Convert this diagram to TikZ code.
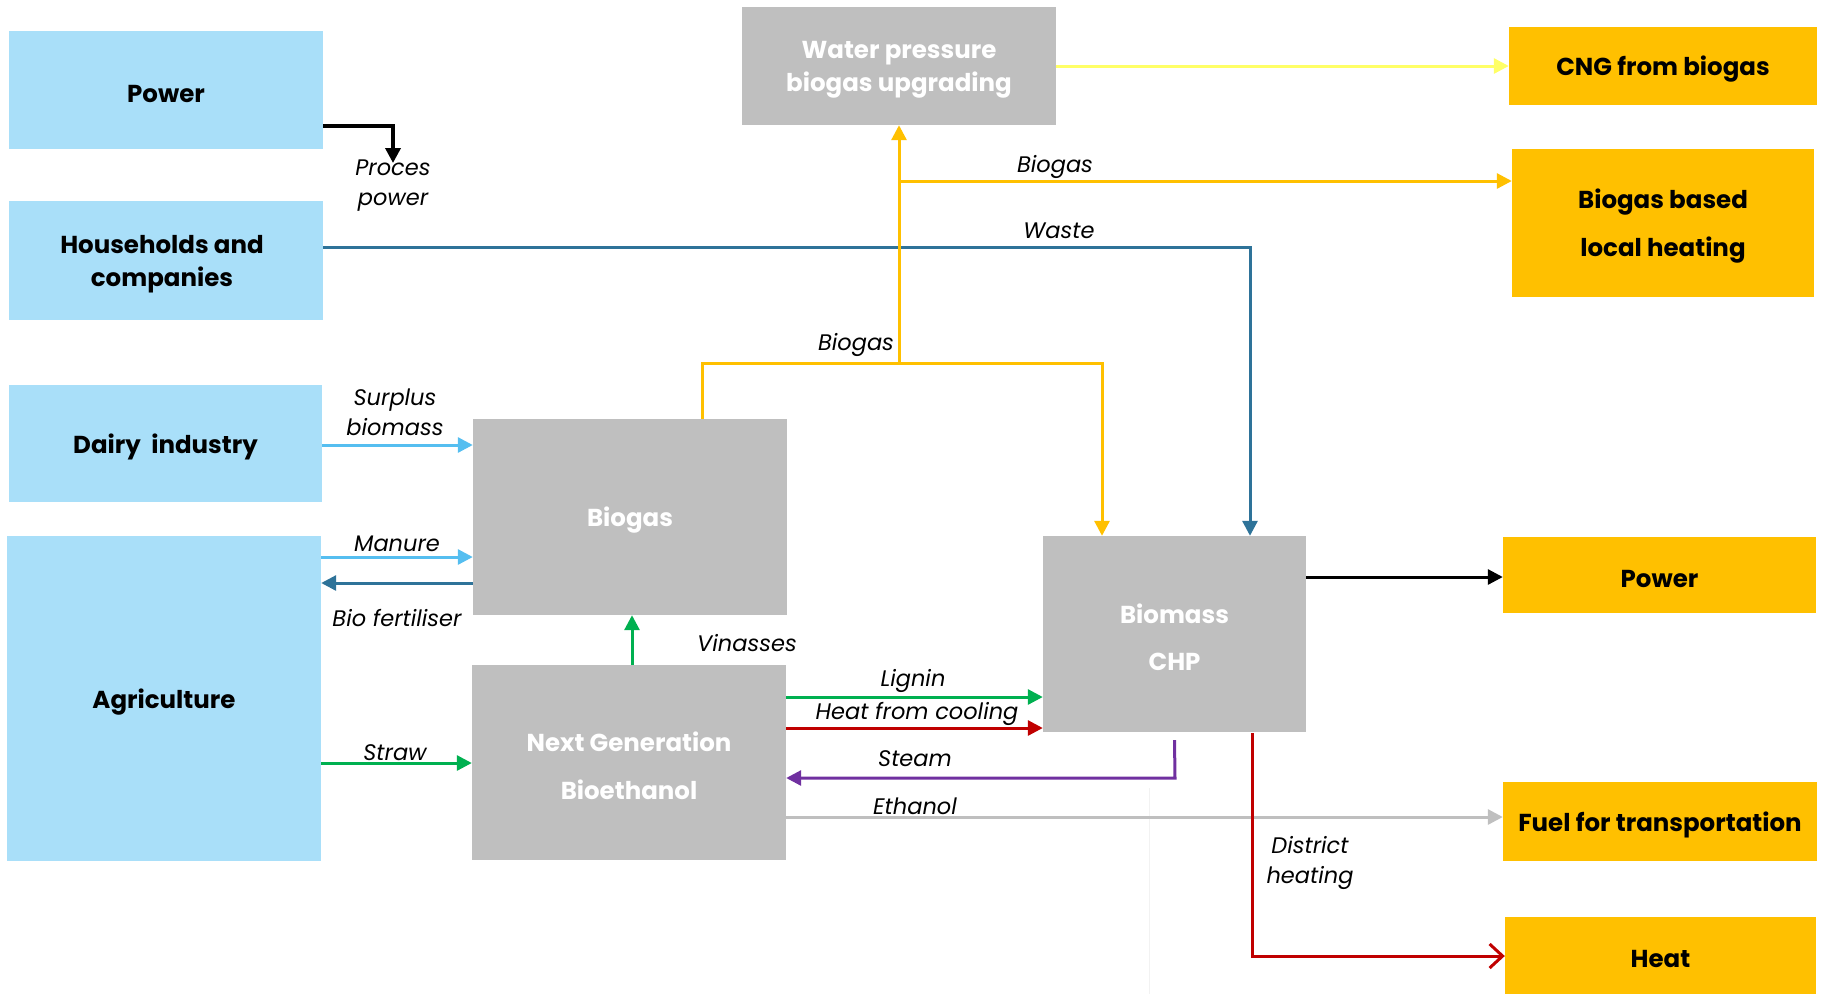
\documentclass[tikz,border=0pt]{standalone}
\usepackage{fontspec}
\setmainfont{Poppins}
\usetikzlibrary{arrows.meta}
\definecolor{lblue}{HTML}{A9DFF9}
\definecolor{pgrey}{HTML}{BFBFBF}
\definecolor{orng}{HTML}{FFC000}
\definecolor{yel}{HTML}{FFFF66}
\definecolor{skyb}{HTML}{55BEF0}
\definecolor{dblue}{HTML}{2E7399}
\definecolor{grn}{HTML}{00B050}
\definecolor{rd}{HTML}{C00000}
\definecolor{purp}{HTML}{7030A0}
\definecolor{faint}{HTML}{F2F2F2}
\begin{document}
\begin{tikzpicture}[x=1pt,y=-1pt,
  box/.style={rectangle, inner sep=0pt},
  srcbox/.style={box, fill=lblue},
  procbox/.style={box, fill=pgrey},
  outbox/.style={box, fill=orng},
  btxt/.style={inner sep=0pt, align=center, font=\fontsize{24.5}{33}\selectfont\bfseries},
  wtxt/.style={btxt, text=white},
  lbl/.style={inner sep=0pt, align=center, font=\fontsize{22.5}{30}\selectfont\itshape},
  flow/.style={line width=3pt, -{Triangle[length=15pt,width=15pt]}}
]
\useasboundingbox (0,0) rectangle (1825,994);
% sources
\node[srcbox, minimum width=314, minimum height=118] (pwrL) at (166,90) {};
\node[srcbox, minimum width=314, minimum height=119] (hh) at (166,260.5) {};
\node[srcbox, minimum width=313, minimum height=117] (dairy) at (165.5,443.5) {};
\node[srcbox, minimum width=314, minimum height=325] (agri) at (164,698.5) {};
% processes
\node[procbox, minimum width=314, minimum height=118] (water) at (899,66) {};
\node[procbox, minimum width=314, minimum height=196] (biogas) at (630,517) {};
\node[procbox, minimum width=314, minimum height=195] (ngb) at (629,762.5) {};
\node[procbox, minimum width=263, minimum height=196] (chp) at (1174.5,634) {};
% outputs
\node[outbox, minimum width=308, minimum height=78] (cng) at (1663,66) {};
\node[outbox, minimum width=302, minimum height=148] (bgheat) at (1663,223) {};
\node[outbox, minimum width=313, minimum height=76] (pwrR) at (1659.5,575) {};
\node[outbox, minimum width=314, minimum height=79] (fuel) at (1660,821.5) {};
\node[outbox, minimum width=311, minimum height=77] (heat) at (1660.5,955.5) {};
% box texts
\node[btxt] (pwrLt) at ([yshift=-3.5pt]pwrL.center) {Power};
\node[btxt] (hht) at ([xshift=-4pt,yshift=-3.5pt]hh.center) {Households and\\companies};
\node[btxt] (dairyt) at ([yshift=-3.5pt]dairy.center) {Dairy\ \ industry};
\node[btxt] (agrit) at ([yshift=-3.5pt]agri.center) {Agriculture};
\node[wtxt] (watert) at ([yshift=-3.5pt]water.center) {Water pressure\\biogas upgrading};
\node[wtxt] (biogast) at ([yshift=-3.5pt]biogas.center) {Biogas};
\node[wtxt, font=\fontsize{24.5}{48}\selectfont\bfseries] (ngbt) at ([yshift=-3.5pt]ngb.center) {Next Generation\\Bioethanol};
\node[wtxt, font=\fontsize{24.5}{47}\selectfont\bfseries] (chpt) at ([yshift=-3pt]chp.center) {Biomass\\CHP};
\node[btxt] (cngt) at ([yshift=-3.5pt]cng.center) {CNG from biogas};
\node[btxt, font=\fontsize{24.5}{48}\selectfont\bfseries] (bgheatt) at ([yshift=-3pt]bgheat.center) {Biogas based\\local heating};
\node[btxt] (pwrRt) at ([yshift=-3.5pt]pwrR.center) {Power};
\node[btxt] (fuelt) at ([yshift=-3.5pt]fuel.center) {Fuel for transportation};
\node[btxt] (heatt) at ([yshift=-3.5pt]heat.center) {Heat};
% faint vertical line
\coordinate (fa) at (1149,788);
\coordinate (fb) at (1149,994);
\draw[faint, line width=1pt] (fa) -- (fb);
% labels
\node[lbl] (lproc) at (393,186) {Proces\\power};
\node[lbl] (lsurp) at (395,412) {Surplus\\biomass};
\node[lbl] (lman) at (397,544) {Manure};
\node[lbl] (lfert) at (397,618) {Bio fertiliser};
\node[lbl] (lstraw) at (395,753) {Straw};
\node[lbl] (lvin) at (747,643) {Vinasses};
\node[lbl] (lbg1) at (856,345) {Biogas};
\node[lbl] (lbg2) at (1055,167) {Biogas};
\node[lbl] (lwaste) at (1059,231) {Waste};
\node[lbl] (llig) at (913,681) {Lignin};
\node[lbl] (lhfc) at (917,714) {Heat from cooling};
\node[lbl] (lsteam) at (915,759) {Steam};
\node[lbl] (leth) at (915,806) {Ethanol};
\node[lbl] (ldh) at (1310,863) {District\\heating};
% connectors
\coordinate (ptip) at (393,163);
\draw[flow, black, line width=3.5pt] (pwrL.east |- 0,126) -- (393,126) -- (ptip);
\draw[flow, dblue] (hh.east |- 0,247) -- (1250,247) -- (chp.north -| 1250,0);
\draw[flow, skyb] (dairy.east |- 0,445) -- (biogas.west |- 0,445);
\draw[flow, skyb] (agri.east |- 0,557) -- (biogas.west |- 0,557);
\draw[flow, dblue] (biogas.west |- 0,583) -- (agri.east |- 0,583);
\draw[flow, grn] (agri.east |- 0,763) -- (ngb.west |- 0,763);
\draw[flow, grn] (ngb.north -| 632,0) -- (biogas.south -| 632,0);
\draw[flow, orng] (biogas.north -| 702,0) -- (702,363) -- (1102,363) -- (chp.north -| 1102,0);
\draw[flow, orng] (899,363) -- (water.south);
\draw[flow, orng] (899,181) -- (bgheat.west |- 0,181);
\draw[flow, yel] (water.east) -- (cng.west);
\draw[flow, grn] (ngb.east |- 0,697) -- (chp.west |- 0,697);
\draw[flow, rd] (ngb.east |- 0,728) -- (chp.west |- 0,728);
\draw[flow, purp] ([yshift=-8pt]chp.south) -- (1175,778) -- (ngb.east |- 0,778);
\draw[flow, pgrey] (ngb.east |- 0,817) -- (fuel.west |- 0,817);
\draw[flow, black] (chp.east |- 0,577) -- (pwrR.west |- 0,577);
\draw[line width=3pt, rd, -{Straight Barb[length=13pt,width=24pt,line width=3pt]}] ([yshift=-1pt]chp.south -| 1252,0) -- (1252,956) -- (heat.west |- 0,956);
\end{tikzpicture}
\end{document}
